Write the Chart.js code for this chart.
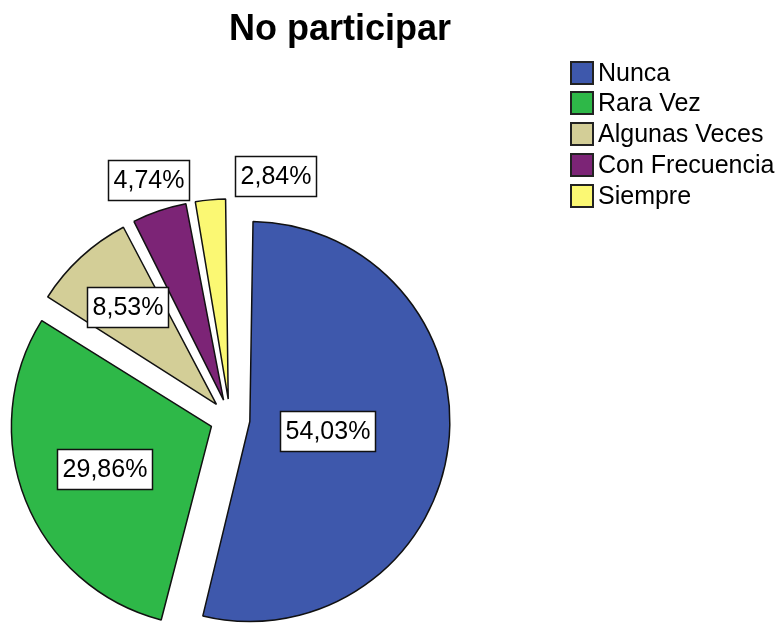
<!DOCTYPE html>
<html>
<head>
<meta charset="utf-8">
<script src="https://cdn.jsdelivr.net/npm/chart.js@4.4.1/dist/chart.umd.min.js"></script>
<style>
    html, body { margin: 0; padding: 0; background: #fff; }
    #wrap { width: 778px; height: 626px; position: relative; }
</style>
</head>
<body>
<div id="wrap"><canvas id="pieChart" width="778" height="626"></canvas></div>
<script>
const chartTitle = 'No participar';
const categories = ['Nunca', 'Rara Vez', 'Algunas Veces', 'Con Frecuencia', 'Siempre'];
const percentages = [54.03, 29.86, 8.53, 4.74, 2.84];
const sliceColors = ['#3E58AC', '#2EB848', '#D3CE97', '#7C2476', '#FBF873'];

const FONT = "'Liberation Sans', Arial, sans-serif";
const RADIUS = 200;
const EXPLODE = 20;   // px every slice is pulled out from the centre
const LABEL_GAP = 45; // min horizontal gap between colliding outside labels

const total = percentages.reduce((a, b) => a + b, 0);
const sliceAngle = v => v / total * 2 * Math.PI;

// Chart.js moves an arc by offset/4 and also grows its radius by
// offset/4 * (1 - sin(min(PI, circumference))); the growth is undone below
const OFFSET = EXPLODE * 4;
const radiusGrowth = v => EXPLODE * (1 - Math.sin(Math.min(Math.PI, sliceAngle(v))));

const fmtPct = v => v.toFixed(2).replace('.', ',') + '%';

function overlaps(a, b, gapX) {
    return a.x1 > b.x0 - gapX && a.x0 < b.x1 + gapX && a.y1 > b.y0 && a.y0 < b.y1;
}

const keepRadius = {
    id: 'keepRadius',
    afterDatasetUpdate(chart, args) {
        args.meta.data.forEach((arc, i) => {
            arc.outerRadius = RADIUS - radiusGrowth(percentages[i]);
        });
    }
};

const sliceLabels = {
    id: 'sliceLabels',
    afterDatasetsDraw(chart) {
        const ctx = chart.ctx;
        const arcs = chart.getDatasetMeta(0).data;
        ctx.save();
        ctx.font = '25px ' + FONT;
        ctx.textAlign = 'center';
        ctx.textBaseline = 'middle';
        const placed = [];
        arcs.forEach((arc, i) => {
            const p = arc.getProps(['x', 'y', 'startAngle', 'endAngle'], true);
            const mid = (p.startAngle + p.endAngle) / 2;
            const half = (p.endAngle - p.startAngle) / 2;
            const ex = p.x + Math.cos(mid) * EXPLODE;
            const ey = p.y + Math.sin(mid) * EXPLODE;
            const text = fmtPct(percentages[i]);
            const w = Math.round(ctx.measureText(text).width) + 10;
            const h = 40;

            // sector centroid
            const d = 2 * RADIUS * Math.sin(half) / (3 * half);
            let cx = ex + Math.cos(mid) * d;
            let cy = ey + Math.sin(mid) * d;
            const chord = 2 * d * Math.sin(half);

            if (chord < 0.6 * w) {
                // outside, box just touching the rim, turned clockwise until clear
                let a = mid;
                const place = () => {
                    const ext = Math.abs(Math.cos(a)) * w / 2 + Math.abs(Math.sin(a)) * h / 2;
                    cx = ex + Math.cos(a) * (RADIUS + ext);
                    cy = ey + Math.sin(a) * (RADIUS + ext);
                    return { x0: cx - w / 2, x1: cx + w / 2, y0: cy - h / 2, y1: cy + h / 2 };
                };
                let box = place();
                let guard = 0;
                while (placed.some(b => overlaps(box, b, LABEL_GAP)) && guard++ < 200) {
                    a += 0.005;
                    box = place();
                }
            }
            const box = { x0: cx - w / 2, x1: cx + w / 2, y0: cy - h / 2, y1: cy + h / 2 };
            placed.push(box);

            const bx = Math.round(box.x0) + 0.5;
            const by = Math.round(box.y0) + 0.5;
            ctx.fillStyle = '#fff';
            ctx.fillRect(bx, by, w, h);
            ctx.strokeStyle = '#111';
            ctx.lineWidth = 1.5;
            ctx.strokeRect(bx, by, w, h);
            ctx.fillStyle = '#000';
            ctx.fillText(text, bx + w / 2, by + h / 2 + 1);
        });
        ctx.restore();
    }
};

const titleAndLegend = {
    id: 'titleAndLegend',
    afterDraw(chart) {
        const ctx = chart.ctx;
        ctx.save();
        ctx.fillStyle = '#000';
        ctx.font = 'bold 36px ' + FONT;
        ctx.textAlign = 'center';
        ctx.textBaseline = 'alphabetic';
        ctx.fillText(chartTitle, 340, 40);

        ctx.font = '25px ' + FONT;
        ctx.textAlign = 'left';
        ctx.textBaseline = 'middle';
        categories.forEach((name, i) => {
            const y = Math.round(72.5 + i * 30.9);
            ctx.fillStyle = sliceColors[i];
            ctx.fillRect(571, y - 11, 22, 22);
            ctx.strokeStyle = '#222';
            ctx.lineWidth = 2;
            ctx.strokeRect(571, y - 11, 22, 22);
            ctx.fillStyle = '#000';
            ctx.fillText(name, 598, y + 1);
        });
        ctx.restore();
    }
};

new Chart(document.getElementById('pieChart').getContext('2d'), {
    type: 'pie',
    data: {
        labels: categories,
        datasets: [{
            data: percentages,
            backgroundColor: sliceColors,
            borderColor: '#111',
            borderWidth: 1.5,
            offset: OFFSET,
            radius: RADIUS
        }]
    },
    options: {
        responsive: false,
        animation: false,
        devicePixelRatio: 1,
        radius: RADIUS,
        layout: { padding: { left: 0, right: 318, top: 212, bottom: 0 } },
        plugins: {
            legend: { display: false },
            title: { display: false },
            tooltip: { enabled: false }
        }
    },
    plugins: [keepRadius, sliceLabels, titleAndLegend]
});
</script>
</body>
</html>
